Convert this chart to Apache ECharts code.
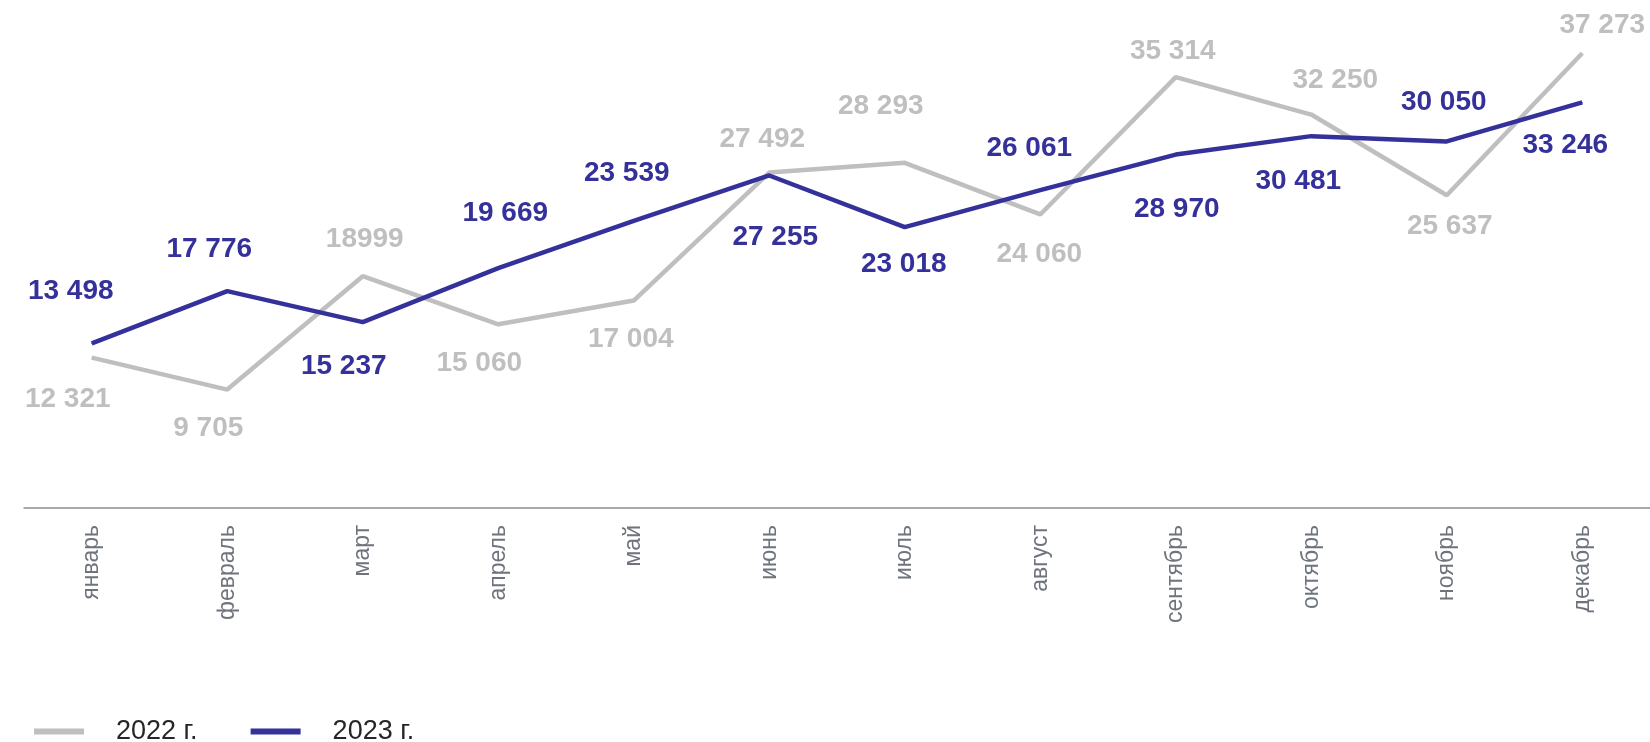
<!DOCTYPE html>
<html>
<head>
<meta charset="utf-8">
<script src="https://cdn.jsdelivr.net/npm/echarts@6/dist/echarts.min.js"></script>
<style>
  html, body { margin: 0; padding: 0; background: #fff; }
  #main { width: 1650px; height: 742px; }
</style>
</head>
<body>
<div id="main"></div>
<script>
const months = ['январь', 'февраль', 'март', 'апрель', 'май', 'июнь', 'июль', 'август', 'сентябрь', 'октябрь', 'ноябрь', 'декабрь']
const values2022 = [12321, 9705, 18999, 15060, 17004, 27492, 28293, 24060, 35314, 32250, 25637, 37273]
const values2023 = [13498, 17776, 15237, 19669, 23539, 27255, 23018, 26061, 28970, 30481, 30050, 33246]
// март 2022 подписан без пробела
const noSpace2022 = [2]

// смещения подписей относительно точки
const offsets2022 = [[-24, 42], [-19, 39], [2, -37], [-19, 39], [-3, 39], [-7, -33], [-24, -57], [-1, 40], [-3, -26], [24, -34], [3, 31], [20, -28]]
const offsets2023 = [[-21, -52], [-18, -42], [-19, 44], [7, -55], [-7, -48], [6, 62], [-1, 37], [-11, -42], [1, 55], [-13, 45], [-3, -39], [-17, 43]]

const gray = '#bfbfbf'
const blue = '#35319a'

function fmt(v, plain) {
    let s = String(v)
    if (plain) return s
    return s.replace(/\B(?=(\d{3})+(?!\d))/g, ' ')
}

function makeData(values, offsets, noSpace) {
    return values.map((v, i) => ({
        value: v,
        label: {
            offset: offsets[i],
            formatter: fmt(v, noSpace && noSpace.includes(i))
        }
    }))
}

function makeSeries(name, values, offsets, color, noSpace) {
    return {
        name: name,
        type: 'line',
        data: makeData(values, offsets, noSpace),
        symbol: 'circle',
        symbolSize: 1,
        itemStyle: { color: color },
        lineStyle: { color: color, width: 4.5 },
        label: {
            show: true,
            position: 'inside',
            align: 'center',
            verticalAlign: 'middle',
            color: color,
            fontFamily: 'Liberation Sans',
            fontWeight: 'bold',
            fontSize: 28
        },
        emphasis: { disabled: true },
        animation: false
    }
}

var myChart = echarts.init(document.getElementById('main'))
let option = {
    animation: false,
    grid: {
        left: 24,
        right: 0,
        top: 20,
        bottom: 234
    },
    legend: {
        left: 29,
        top: 713,
        itemWidth: 50,
        itemHeight: 6,
        itemGap: 53,
        icon: 'rect',
        data: ['2022 г.', '2023 г.'],
        textStyle: {
            fontFamily: 'Liberation Sans',
            fontSize: 27,
            color: '#262626',
            padding: [0, 0, 0, 27]
        }
    },
    xAxis: {
        type: 'category',
        data: months,
        boundaryGap: true,
        axisLine: { show: true, lineStyle: { color: '#8c8c8c', width: 1.5 } },
        axisTick: { show: false },
        axisLabel: {
            rotate: 90,
            margin: 17,
            interval: 0,
            color: '#6e737c',
            fontFamily: 'Liberation Sans',
            fontSize: 23
        }
    },
    yAxis: {
        type: 'value',
        min: 0,
        max: 40000,
        show: false,
        splitLine: { show: false }
    },
    series: [
        makeSeries('2022 г.', values2022, offsets2022, gray, noSpace2022),
        makeSeries('2023 г.', values2023, offsets2023, blue)
    ]
}
myChart.setOption(option)
</script>
</body>
</html>
